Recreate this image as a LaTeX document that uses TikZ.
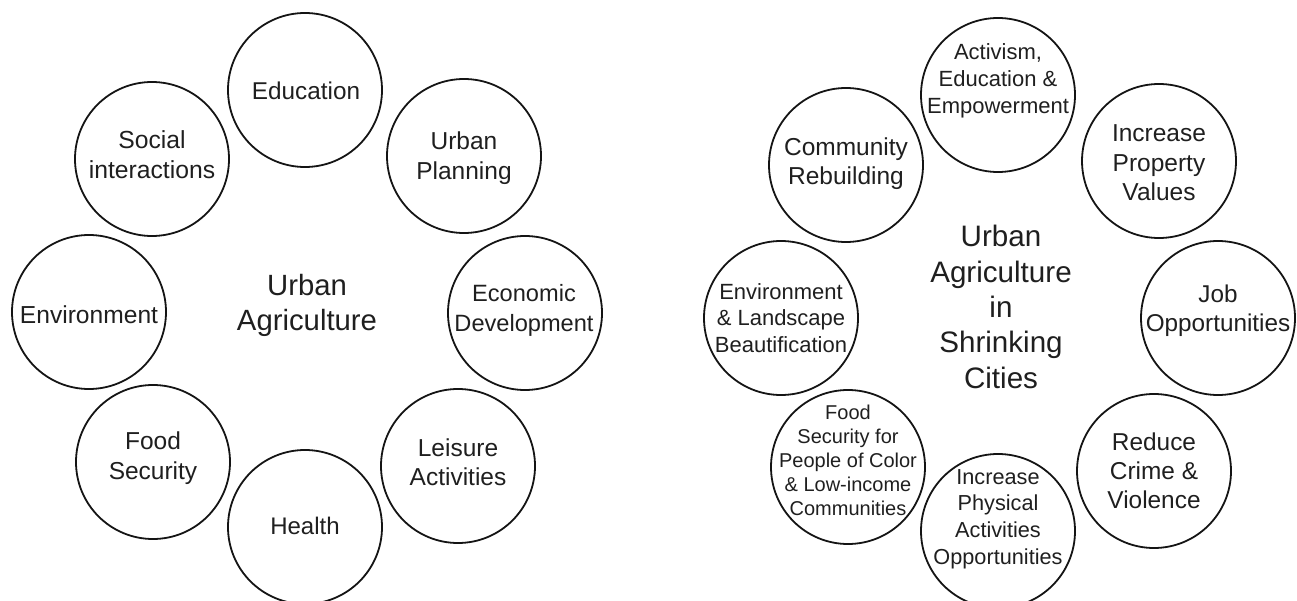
\documentclass[tikz,border=0pt]{standalone}
\usepackage{fontspec}
\setmainfont{Liberation Sans}
\newcommand\fsz[2]{\fontsize{#1pt}{#2pt}\selectfont}
\begin{document}
\begin{tikzpicture}[x=1pt,y=-1pt,
  ring/.style={circle,draw=black!92,line width=1.8pt,minimum size=154pt,inner sep=0pt},
  lab/.style={align=center,text=black!88,inner sep=0pt}]
\useasboundingbox (0,0) rectangle (1297,601);
% ---------- left diagram ----------
\node[lab,font=\fsz{29.3}{35}] (ua) at (307,305) {Urban\\Agriculture};
\node[ring] (c1) at (305,90) {};
\node[lab,font=\fsz{24.3}{29}] (t1) at (306,91) {Education};
\node[ring] (c2) at (464,156) {};
\node[lab,font=\fsz{24.5}{29.5}] (t2) at (464,158) {Urban\\Planning};
\node[ring] (c3) at (525,313) {};
\node[lab,font=\fsz{23.6}{30}] (t3) at (524,310) {Economic\\Development};
\node[ring] (c4) at (458,466) {};
\node[lab,font=\fsz{24.5}{29}] (t4) at (458,462) {Leisure\\Activities};
\node[ring] (c5) at (305,527) {};
\node[lab,font=\fsz{24}{29}] (t5) at (305,526) {Health};
\node[ring] (c6) at (153,462) {};
\node[lab,font=\fsz{24.5}{30}] (t6) at (153,458) {Food\\Security};
\node[ring] (c7) at (89,312) {};
\node[lab,font=\fsz{24.6}{29}] (t7) at (89,315) {Environment};
\node[ring] (c8) at (152,159) {};
\node[lab,font=\fsz{24.7}{30}] (t8) at (152,155) {Social\\interactions};
% ---------- right diagram ----------
\node[lab,font=\fsz{29.6}{35.3}] (ub) at (1001,307) {Urban\\Agriculture\\in\\Shrinking\\Cities};
\node[ring] (d1) at (998,95) {};
\node[lab,font=\fsz{22}{26.7}] (s1) at (998,81) {Activism,\\Education \&\\Empowerment};
\node[ring] (d2) at (1159,161) {};
\node[lab,font=\fsz{24.5}{29.5}] (s2) at (1159,163) {Increase\\Property\\Values};
\node[ring] (d3) at (1218,318) {};
\node[lab,font=\fsz{24.3}{29}] (s3) at (1218,311) {Job\\Opportunities};
\node[ring] (d4) at (1154,471) {};
\node[lab,font=\fsz{24.4}{29}] (s4) at (1154,471) {Reduce\\Crime \&\\Violence};
\node[ring] (d5) at (998,531) {};
\node[lab,font=\fsz{21.7}{26.7}] (s5) at (998,519) {Increase\\Physical\\Activities\\Opportunities};
\node[ring] (d6) at (848,467) {};
\node[lab,font=\fsz{20}{24}] (s6) at (848,460) {Food\\Security for\\People of Color\\\& Low-income\\Communities};
\node[ring] (d7) at (781,318) {};
\node[lab,font=\fsz{22}{26.7}] (s7) at (781,318) {Environment\\\& Landscape\\Beautification};
\node[ring] (d8) at (846,165) {};
\node[lab,font=\fsz{24.5}{29}] (s8) at (846,164) {Community\\Rebuilding};
\end{tikzpicture}
\end{document}
